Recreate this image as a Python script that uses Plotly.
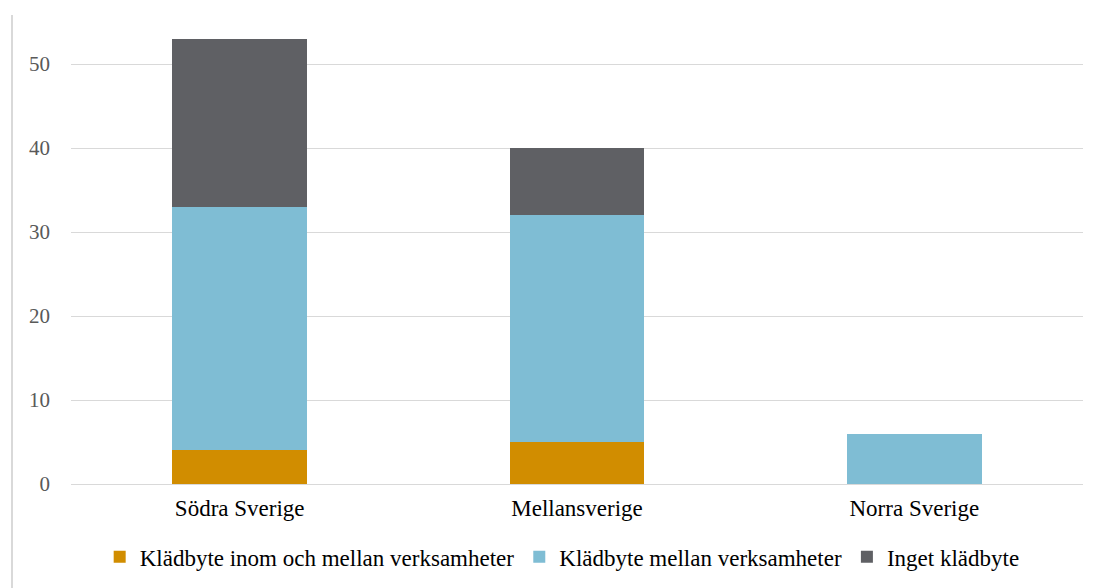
import plotly.graph_objects as go

regions = ["Södra Sverige", "Mellansverige", "Norra Sverige"]
inom_och_mellan = [4, 5, 0]
mellan = [29, 27, 6]
inget = [20, 8, 0]

serif = "Liberation Serif, Times New Roman, serif"

fig = go.Figure()
fig.add_trace(go.Bar(x=regions, y=inom_och_mellan, name="Klädbyte inom och mellan verksamheter",
                     marker=dict(color="#D18D00", line=dict(width=0))))
fig.add_trace(go.Bar(x=regions, y=mellan, name="Klädbyte mellan verksamheter",
                     marker=dict(color="#7FBDD4", line=dict(width=0))))
fig.add_trace(go.Bar(x=regions, y=inget, name="Inget klädbyte",
                     marker=dict(color="#5F6064", line=dict(width=0))))

fig.update_layout(
    barmode="stack",
    bargap=0.6,
    width=1098, height=588,
    margin=dict(l=71, r=15, t=22, b=104),
    plot_bgcolor="white",
    paper_bgcolor="white",
    font=dict(family=serif, size=23, color="black"),
    showlegend=True,
    legend=dict(orientation="h", xref="container", yref="container",
                x=0.512, xanchor="center", y=0.053, yanchor="middle", itemwidth=30,
                font=dict(family=serif, size=23, color="black"), traceorder="normal"),
    shapes=[dict(type="line", xref="paper", yref="paper", x0=-0.0583, x1=-0.0583, y0=-0.3, y1=1.015,
                 line=dict(color="#D9D9D9", width=2))],
)
fig.update_xaxes(showline=False, ticks="", ticklabelstandoff=8,
                 tickfont=dict(family=serif, size=23, color="black"))
fig.update_yaxes(range=[0, 55], dtick=10, showgrid=True, gridcolor="#D9D9D9", gridwidth=1,
                 zeroline=True, zerolinecolor="#D9D9D9", zerolinewidth=1,
                 tickfont=dict(family=serif, size=21, color="#595959"), ticklabelstandoff=20)

fig.write_html("out.html", config={"displayModeBar": False},
               post_script="document.body.style.margin='0';")
